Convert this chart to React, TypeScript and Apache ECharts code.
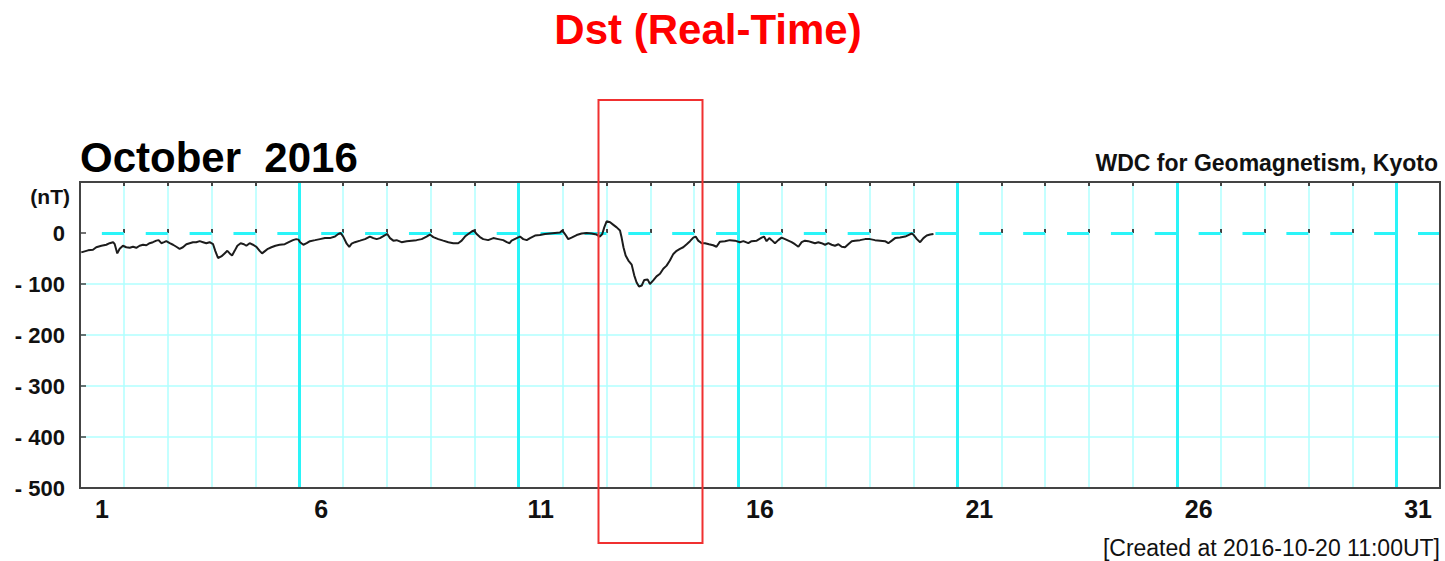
import React, { useEffect, useRef } from "react";
import * as echarts from "echarts";

// Dst index readings as [hour since 2016-10-01 00UT, nT]
const dstOct01to05: [number, number][] = [
  [0.7, -38], [4.4, -34], [7.1, -33], [8.9, -28], [11.7, -25], [14.4, -23], [16.2, -20], [18.1, -18],
  [19, -22], [20.4, -40], [21.7, -31], [23.5, -25], [25.3, -28], [27.2, -29], [29, -27], [30.8, -29],
  [32.6, -25], [34.5, -23], [36.3, -24], [38.1, -20], [39.9, -18], [41.8, -15], [43, -14], [44.5, -20],
  [46, -18], [47.2, -16], [49.1, -20], [50.9, -23], [52.7, -27], [54.5, -31], [56.3, -28], [58.2, -22],
  [60, -20], [61.8, -18], [63.6, -18], [65.5, -16], [67.3, -18], [69.1, -20], [70.9, -18], [72.8, -22],
  [74, -35], [75.5, -49], [77.3, -46], [79.1, -40], [80.6, -35], [81.9, -40], [83.2, -44], [84.6, -35],
  [86.1, -25], [87.9, -20], [89.7, -22], [91, -25], [92.8, -20], [94.6, -23], [96.5, -27], [98.3, -35],
  [99.6, -40], [101, -36], [102.8, -31], [104.7, -28], [106.9, -25], [109.2, -23], [112, -22], [114.2, -18],
  [116.5, -14], [118.3, -12], [119.5, -13],
];

const dstOct06to10: [number, number][] = [
  [120.4, -18], [122.2, -23], [124, -20], [125.8, -16], [128.6, -14], [131.3, -12], [134, -10], [136.7, -10],
  [139.5, -7], [141.3, -2], [142.6, 0], [144, -7], [145.9, -21], [147.3, -27], [148.6, -21], [150.4, -18],
  [153.2, -15], [155.9, -12], [158.6, -7], [160.5, -10], [162.3, -12], [164.1, -10], [166.9, -4], [168.1, -2],
  [169.6, -10], [171.4, -15], [173.2, -14], [175.9, -18], [178.7, -16], [181.4, -15], [184.1, -14], [186.9, -12],
  [189.6, -7], [191.4, -3], [193.3, -8], [196, -12], [198.7, -15], [201.5, -18], [204.2, -20], [206.9, -20],
  [208.8, -15], [210.6, -7], [212.4, -2], [214.3, 3], [215.5, 5], [217, -2], [218.8, -8], [220.6, -12],
  [223.3, -14], [226.1, -10], [228.8, -12], [231.5, -14], [233.5, -18], [235, -20],
];

const dstOct10to15: [number, number][] = [
  [236.1, -15], [238.9, -10], [240.7, -7], [242.5, -12], [244.4, -14], [246.2, -10], [248.9, -5], [251.6, -4],
  [254.4, -2], [257.1, -1], [259.8, 0], [262.6, 1], [263.8, 5], [265.3, -2], [267.1, -12], [268.9, -9],
  [271.7, -4], [274.4, -1], [277.2, 0], [279.9, -1], [282.6, -3], [284.4, -7], [285.7, -2], [286.8, 11],
  [288.1, 23], [290, 21], [291.8, 16], [293.6, 11], [295.4, 5], [296.3, -9], [297.3, -28], [298.5, -44],
  [300, -54], [301.8, -62], [303.2, -83], [304.5, -97], [305.8, -105], [307.3, -103], [308.7, -92], [310.5, -91],
  [311.8, -100], [313.6, -93], [315.4, -85], [317.3, -80], [319.1, -70], [320.9, -64], [322.7, -54], [324.6, -41],
  [326.4, -35], [328.2, -31], [330, -28], [331.9, -22], [333.7, -16], [335.5, -9], [336.8, -7], [338.2, -15],
  [340.1, -20], [341.9, -20], [344.1, -22], [346.4, -24], [348.2, -27], [350.1, -17],
];

const dstOct15to20: [number, number][] = [
  [352.8, -16], [355.5, -14], [358.3, -15], [361, -18], [362.9, -16], [365.6, -20], [367.4, -16], [370.2, -15],
  [372.9, -9], [374.2, -7], [375.6, -16], [377.1, -10], [378.4, -14], [380.2, -20], [382, -14], [383.8, -9],
  [385.7, -12], [387.5, -15], [389.3, -18], [391.1, -22], [393, -27], [394.8, -18], [396.6, -15], [398.4, -16],
  [400.3, -18], [402.1, -20], [403.9, -18], [405.7, -20], [407.6, -23], [409.4, -20], [411.2, -23], [413, -25],
  [414.9, -22], [416.7, -27], [418.5, -28], [420.3, -22], [422.2, -16], [424, -15], [426.7, -14], [429.5, -12],
  [432.2, -12], [434.9, -14], [437.7, -15], [440.4, -16], [442.2, -20], [444.1, -15], [445.9, -10], [448.6, -9],
  [451.4, -7], [453.2, -4], [455, -1], [455.9, -3], [457.8, -12], [459.6, -18], [461.4, -10], [463.2, -5],
  [465.1, -3], [466.9, -2],
];

// Day-of-month labels and the days whose start gets a heavy grid line
const dayLabels = [1, 6, 11, 16, 21, 26, 31];
const heavyLineDays = [6, 11, 16, 21, 26, 31];

const DAYS_IN_MONTH = 31;
const HOURS_PER_DAY = 24;
const Y_MIN = -500;
const Y_MAX = 100;
const Y_STEP = 100;

const FONT = "'Liberation Sans', Arial, Helvetica, sans-serif";
const GRID_LEFT = 80;
const GRID_TOP = 182;
const GRID_WIDTH = 1360;
const GRID_HEIGHT = 306;

const thinCyan = "#b0ffff";
const thickCyan = "#2af4f8";
const frameColor = "#444444";

export default function App() {
  const ref = useRef<HTMLDivElement>(null);

  useEffect(() => {
    if (!ref.current) return;
    const chart = echarts.init(ref.current, undefined, { renderer: "svg" });

    const readings = [...dstOct01to05, ...dstOct06to10, ...dstOct10to15, ...dstOct15to20].map(
      ([h, v]) => [h / HOURS_PER_DAY, v]
    );
    const halfDayPx = GRID_WIDTH / DAYS_IN_MONTH / 2;

    chart.setOption({
      animation: false,
      backgroundColor: "#ffffff",
      grid: {
        left: GRID_LEFT,
        top: GRID_TOP,
        width: GRID_WIDTH,
        height: GRID_HEIGHT,
        show: true,
        borderColor: frameColor,
        borderWidth: 2,
        backgroundColor: "transparent",
        z: 4,
      },
      xAxis: [
        {
          // time axis in days since the start of the month
          type: "value",
          min: 0,
          max: DAYS_IN_MONTH,
          interval: 1,
          position: "bottom",
          axisLine: { show: false },
          axisTick: { show: true, inside: true, length: 4, lineStyle: { color: frameColor, width: 2 } },
          axisLabel: {
            show: true,
            customValues: dayLabels.map((d) => d - 0.5),
            margin: 8,
            fontFamily: FONT,
            fontSize: 25,
            fontWeight: "bold",
            color: "#111",
            formatter: (v: number) => String(Math.round(v + 0.5)),
          },
          splitLine: { show: true, showMinLine: false, showMaxLine: false, lineStyle: { color: thinCyan, width: 1.5 } },
        },
        {
          type: "value",
          min: 0,
          max: DAYS_IN_MONTH,
          interval: 1,
          position: "top",
          axisLine: { show: false },
          axisTick: { show: true, inside: true, length: 4, lineStyle: { color: frameColor, width: 2 } },
          axisLabel: { show: false },
          splitLine: { show: false },
        },
      ],
      yAxis: [
        {
          type: "value",
          min: Y_MIN,
          max: Y_MAX,
          interval: Y_STEP,
          axisLine: { show: false },
          axisTick: { show: true, inside: true, length: 6, lineStyle: { color: frameColor, width: 1.5 } },
          axisLabel: {
            margin: 15,
            fontFamily: FONT,
            fontSize: 22,
            fontWeight: "bold",
            color: "#111",
            formatter: (v: number) => (v > 0 ? "" : v === 0 ? "0" : "- " + Math.abs(v)),
          },
          splitLine: {
            show: true,
            showMinLine: false,
            showMaxLine: false,
            lineStyle: { color: [thinCyan, thinCyan, thinCyan, thinCyan, "rgba(0,0,0,0)"], width: 1.5 },
          },
        },
      ],
      series: [
        {
          name: "Dst",
          type: "line",
          xAxisIndex: 0,
          yAxisIndex: 0,
          data: readings,
          showSymbol: false,
          symbol: "none",
          z: 3,
          lineStyle: { color: "#1c1c1c", width: 2 },
          markLine: {
            silent: true,
            symbol: "none",
            z: 1,
            label: { show: false },
            data: [
              ...heavyLineDays.map((d) => ({
                xAxis: d - 1,
                lineStyle: { color: thickCyan, width: 3, type: "solid" },
              })),
              {
                yAxis: 0,
                lineStyle: {
                  color: thickCyan,
                  width: 3,
                  type: [halfDayPx, halfDayPx],
                  dashOffset: halfDayPx,
                },
              },
            ],
          },
        },
      ],
      graphic: [
        {
          type: "text",
          x: 708,
          y: 29,
          style: {
            text: "Dst (Real-Time)",
            fill: "#ff0000",
            font: `bold 42px ${FONT}`,
            textAlign: "center",
            textVerticalAlign: "middle",
          },
        },
        {
          type: "text",
          x: 80,
          y: 157,
          style: {
            text: "October  2016",
            fill: "#000",
            font: `bold 42px ${FONT}`,
            textAlign: "left",
            textVerticalAlign: "middle",
          },
        },
        {
          type: "text",
          x: 1438,
          y: 163,
          style: {
            text: "WDC for Geomagnetism, Kyoto",
            fill: "#111",
            font: `bold 23px ${FONT}`,
            textAlign: "right",
            textVerticalAlign: "middle",
          },
        },
        {
          type: "text",
          x: 70,
          y: 196,
          style: {
            text: "(nT)",
            fill: "#111",
            font: `bold 21px ${FONT}`,
            textAlign: "right",
            textVerticalAlign: "middle",
          },
        },
        {
          type: "text",
          x: 1440,
          y: 548,
          style: {
            text: "[Created at 2016-10-20 11:00UT]",
            fill: "#111",
            font: `23px ${FONT}`,
            textAlign: "right",
            textVerticalAlign: "middle",
          },
        },
        {
          type: "rect",
          shape: { x: 598.5, y: 100, width: 104, height: 443 },
          z: 10,
          style: { fill: "none", stroke: "#f03030", lineWidth: 2 },
        },
      ],
    });

    return () => chart.dispose();
  }, []);

  return (
    <div
      ref={ref}
      style={{ position: "fixed", left: 0, top: 0, width: 1445, height: 561, background: "#fff" }}
    />
  );
}
